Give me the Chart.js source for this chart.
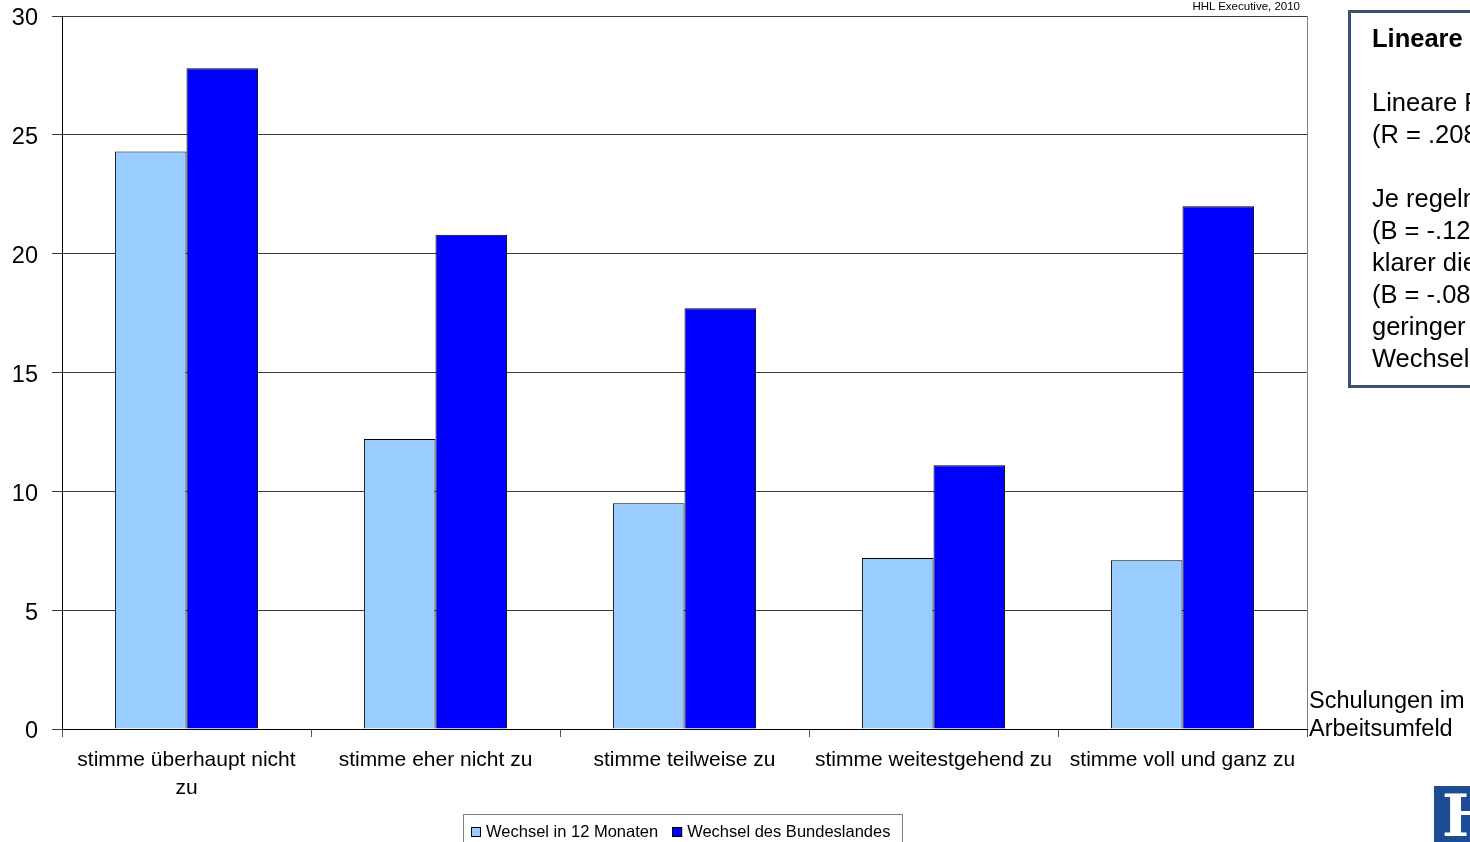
<!DOCTYPE html>
<html>
<head>
<meta charset="utf-8">
<script src="https://cdn.jsdelivr.net/npm/chart.js@4.4.1/dist/chart.umd.min.js"></script>
<style>
  html, body { margin: 0; padding: 0; background: #fff; overflow: hidden; }
  body { width: 1470px; height: 842px; position: relative; font-family: "Liberation Sans", Arial, sans-serif; }
  #wrap { position: absolute; left: 0; top: 0; width: 1470px; height: 842px; }
  .src { position: absolute; right: 170px; top: 0px; font-size: 11.5px; color: #000; }
  .xtitle { position: absolute; left: 1309px; top: 686px; font-size: 23.5px; line-height: 28px; color: #000; white-space: nowrap; }
  .note { position: absolute; left: 1348px; top: 10px; width: 400px; height: 372px; border: 3px solid #3d5270; box-sizing: content-box; }
  .note div { position: absolute; left: 21px; font-size: 25.5px; color: #000; white-space: nowrap; line-height: 32px; }
  .logo { position: absolute; left: 1434px; top: 786px; width: 60px; height: 60px; background: #1c4c94; overflow: hidden; }
  .logo span { position: absolute; left: 8px; top: -4px; font-family: "DejaVu Serif", serif; font-weight: bold; font-size: 58px; color: #fff; }
</style>
</head>
<body>
<div id="wrap"><canvas id="chart" width="1470" height="842"></canvas></div>
<div class="src">HHL Executive, 2010</div>
<div class="xtitle">Schulungen im<br>Arbeitsumfeld</div>
<div class="note">
  <div style="top:9px;font-weight:bold;">Lineare Regression</div>
  <div style="top:73px;">Lineare Regression<br>(R = .208; p &lt; .001)</div>
  <div style="top:169px;">Je regelmäßiger Schulungen<br>(B = -.124) und je<br>klarer die Karriere<br>(B = -.083), desto<br>geringer die<br>Wechselbereitschaft</div>
</div>
<div class="logo"><span>H</span></div>
<script>
var categories = [
  ['stimme überhaupt nicht', 'zu'],
  'stimme eher nicht zu',
  'stimme teilweise zu',
  'stimme weitestgehend zu',
  'stimme voll und ganz zu'
];
var wechsel12 = [24.3, 12.2, 9.5, 7.2, 7.1];
var wechselLand = [27.8, 20.8, 17.7, 11.1, 22.0];
var seriesNames = ['Wechsel in 12 Monaten', 'Wechsel des Bundeslandes'];
var seriesColors = ['#99ccff', '#0000ff'];

var FONT = '"Liberation Sans", Arial, sans-serif';

// legend with a frame, drawn under the x labels
var boxLegend = {
  id: 'boxLegend',
  afterDraw: function (chart) {
    var c = chart.ctx;
    c.save();
    c.font = '16.5px ' + FONT;
    c.textBaseline = 'middle';
    c.strokeStyle = '#808080';
    c.lineWidth = 1;
    c.strokeRect(463.5, 814.5, 439, 40);
    var x = 471;
    chart.data.datasets.forEach(function (ds) {
      c.fillStyle = ds.backgroundColor;
      c.fillRect(x, 827, 10, 10);
      c.strokeStyle = '#000';
      c.strokeRect(x + 0.5, 827.5, 9, 9);
      c.fillStyle = '#000';
      c.fillText(ds.label, x + 15, 832);
      x += 15 + c.measureText(ds.label).width + 14;
    });
    // right edge of the plot frame
    var a = chart.chartArea;
    c.strokeStyle = '#808080';
    c.beginPath();
    c.moveTo(a.right + 0.5, a.top);
    c.lineTo(a.right + 0.5, a.bottom);
    c.stroke();
    c.restore();
  }
};

var ctx = document.getElementById('chart').getContext('2d');
var chart = new Chart(ctx, {
  type: 'bar',
  data: {
    labels: categories,
    datasets: [{
      label: seriesNames[0],
      data: wechsel12,
      backgroundColor: seriesColors[0],
      borderColor: '#000',
      borderWidth: 1
    }, {
      label: seriesNames[1],
      data: wechselLand,
      backgroundColor: seriesColors[1],
      borderColor: '#000',
      borderWidth: 1
    }]
  },
  options: {
    responsive: false,
    animation: false,
    devicePixelRatio: 1,
    layout: { padding: { top: 16, right: 163, left: 0, bottom: 0 } },
    datasets: { bar: { categoryPercentage: 0.575, barPercentage: 1 } },
    plugins: {
      legend: { display: false },
      tooltip: { enabled: false }
    },
    scales: {
      x: {
        grid: { drawOnChartArea: false, offset: true, color: '#555', tickLength: 8 },
        border: { color: '#000', width: 1 },
        ticks: {
          color: '#000', autoSkip: false, maxRotation: 0, padding: 10,
          font: { family: FONT, size: 21, lineHeight: 1.3 }
        },
        afterFit: function (s) { s.height = 113; }
      },
      y: {
        min: 0, max: 30,
        grid: { color: '#3a3a3a', tickLength: 10 },
        border: { color: '#000', width: 1 },
        ticks: {
          stepSize: 5, color: '#000', padding: 14, labelOffset: 3,
          font: { family: FONT, size: 23.5 }
        },
        afterFit: function (s) {
          s.width = 62;
          s.paddingTop = 0;
          s.paddingBottom = 0;
        }
      }
    }
  },
  plugins: [boxLegend]
});
</script>
</body>
</html>
